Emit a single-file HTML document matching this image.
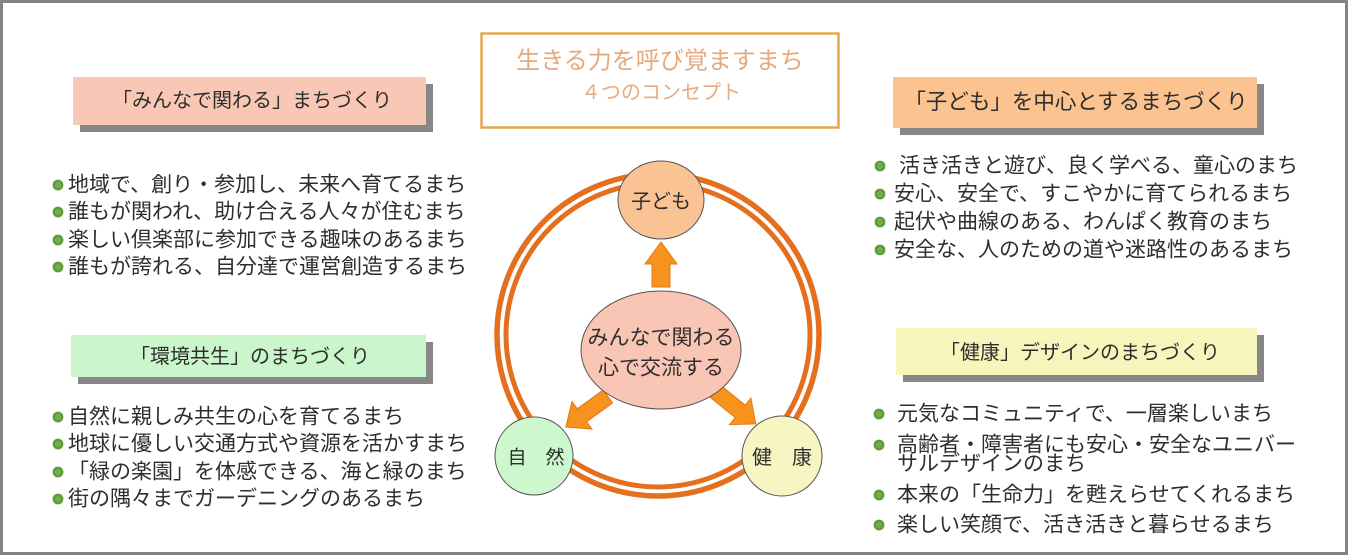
<!DOCTYPE html>
<html><head><meta charset="utf-8">
<style>
html,body{margin:0;padding:0;background:#fff;}
svg{display:block;}
text{font-family:"Liberation Sans","Noto Sans CJK JP",sans-serif;fill:#2e2e2e;}
</style></head>
<body>
<svg width="1348" height="555" viewBox="0 0 1348 555" xmlns="http://www.w3.org/2000/svg">
<defs>
  <g id="b"><circle cx="0" cy="0" r="5.4" fill="#5e9c3e"/><circle cx="0" cy="0" r="3" fill="#6fb04a"/></g>
</defs>
<rect x="0" y="0" width="1348" height="555" fill="#838383"/>
<rect x="3" y="3" width="1342" height="549" fill="#ffffff"/>

<!-- top center box -->
<rect x="481.5" y="33.5" width="357" height="94" fill="#fff" stroke="#e3a850" stroke-width="2.5"/>
<text x="660" y="61" font-size="24" text-anchor="middle" dominant-baseline="central" style="fill:#e6a97c">生きる力を呼び覚ますまち</text>
<text x="661" y="93" font-size="20" text-anchor="middle" dominant-baseline="central" style="fill:#e6ac80">４つのコンセプト</text>

<!-- Box 1 pink -->
<rect x="80" y="84" width="353" height="48" fill="#878787"/>
<rect x="73" y="77" width="353" height="48" fill="#f9c7b6"/>
<text x="252" y="101" font-size="20" text-anchor="middle" dominant-baseline="central">「みんなで関わる」まちづくり</text>

<g font-size="21">
<use href="#b" x="58" y="185"/><text x="68" y="185" dominant-baseline="central">地域で、創り・参加し、未来へ育てるまち</text>
<use href="#b" x="58" y="212"/><text x="68" y="212" dominant-baseline="central">誰もが関われ、助け合える人々が住むまち</text>
<use href="#b" x="58" y="240"/><text x="68" y="240" dominant-baseline="central">楽しい倶楽部に参加できる趣味のあるまち</text>
<use href="#b" x="58" y="267"/><text x="68" y="267" dominant-baseline="central">誰もが誇れる、自分達で運営創造するまち</text>
</g>

<!-- Box 2 green -->
<rect x="78" y="342" width="355" height="42" fill="#878787"/>
<rect x="71" y="335" width="355" height="42" fill="#cbf6cb"/>
<text x="250" y="357" font-size="20" text-anchor="middle" dominant-baseline="central">「環境共生」のまちづくり</text>

<g font-size="21">
<use href="#b" x="58" y="417"/><text x="68" y="417" dominant-baseline="central">自然に親しみ共生の心を育てるまち</text>
<use href="#b" x="58" y="444"/><text x="68" y="444" dominant-baseline="central">地球に優しい交通方式や資源を活かすまち</text>
<use href="#b" x="58" y="472"/><text x="68" y="472" dominant-baseline="central">「緑の楽園」を体感できる、海と緑のまち</text>
<use href="#b" x="58" y="499"/><text x="68" y="499" dominant-baseline="central">街の隅々までガーデニングのあるまち</text>
</g>

<!-- Box 3 peach -->
<rect x="900" y="84" width="364" height="51" fill="#878787"/>
<rect x="893" y="77" width="364" height="51" fill="#fbc390"/>
<text x="1076" y="102" font-size="21.5" text-anchor="middle" dominant-baseline="central">「子ども」を中心とするまちづくり</text>

<g font-size="21">
<use href="#b" x="880" y="166"/><text x="899" y="166" dominant-baseline="central">活き活きと遊び、良く学べる、童心のまち</text>
<use href="#b" x="880" y="194"/><text x="894" y="194" dominant-baseline="central">安心、安全で、すこやかに育てられるまち</text>
<use href="#b" x="880" y="222"/><text x="894" y="222" dominant-baseline="central">起伏や曲線のある、わんぱく教育のまち</text>
<use href="#b" x="880" y="250"/><text x="894" y="250" dominant-baseline="central">安全な、人のための道や迷路性のあるまち</text>
</g>

<!-- Box 4 yellow -->
<rect x="903" y="335" width="361" height="47" fill="#878787"/>
<rect x="896" y="328" width="361" height="47" fill="#f8f5bc"/>
<text x="1080" y="353" font-size="20" text-anchor="middle" dominant-baseline="central">「健康」デザインのまちづくり</text>

<g font-size="21">
<use href="#b" x="879" y="414"/><text x="897" y="414" dominant-baseline="central">元気なコミュニティで、一層楽しいまち</text>
<use href="#b" x="879" y="445"/><text x="897" y="445" dominant-baseline="central">高齢者・障害者にも安心・安全なユニバー</text>
<text x="897" y="464" dominant-baseline="central">サルデザインのまち</text>
<use href="#b" x="879" y="495"/><text x="897" y="495" dominant-baseline="central">本来の「生命力」を甦えらせてくれるまち</text>
<use href="#b" x="879" y="525"/><text x="897" y="525" dominant-baseline="central">楽しい笑顔で、活き活きと暮らせるまち</text>
</g>

<!-- ring -->
<circle cx="658" cy="335" r="161" fill="none" stroke="#e36f1f" stroke-width="5.5"/>
<circle cx="658" cy="335" r="152" fill="none" stroke="#e36f1f" stroke-width="5"/>

<!-- arrows -->
<polygon points="661,242 677,264 670,264 670,287 652,287 652,264 645,264" fill="#f7921f" stroke="#e27a14" stroke-width="1"/>
<g transform="translate(603,400) rotate(144)">
  <polygon points="-6,-8 26,-8 26,-17 46,0 26,17 26,8 -6,8" fill="#f7921f" stroke="#e27a14" stroke-width="1"/>
</g>
<g transform="translate(720,395) rotate(39)">
  <polygon points="-6,-8 26,-8 26,-17 46,0 26,17 26,8 -6,8" fill="#f7921f" stroke="#e27a14" stroke-width="1"/>
</g>

<!-- center ellipse -->
<ellipse cx="661" cy="350" rx="80" ry="59" fill="#f9c5b4" stroke="#555" stroke-width="1"/>
<text x="661" y="338" font-size="21" text-anchor="middle" dominant-baseline="central">みんなで関わる</text>
<text x="661" y="368" font-size="21" text-anchor="middle" dominant-baseline="central">心で交流する</text>

<!-- nodes -->
<ellipse cx="661" cy="200" rx="43" ry="39" fill="#fac394" stroke="#555" stroke-width="1"/>
<text x="661" y="202" font-size="20" text-anchor="middle" dominant-baseline="central">子ども</text>

<circle cx="534" cy="456" r="39" fill="#cdf7cd" stroke="#555" stroke-width="1"/>
<text x="536" y="458" font-size="19" text-anchor="middle" dominant-baseline="central">自　然</text>

<circle cx="782" cy="456" r="40" fill="#f7f6c3" stroke="#555" stroke-width="1"/>
<text x="782" y="458" font-size="20" text-anchor="middle" dominant-baseline="central">健　康</text>
</svg>
</body></html>
